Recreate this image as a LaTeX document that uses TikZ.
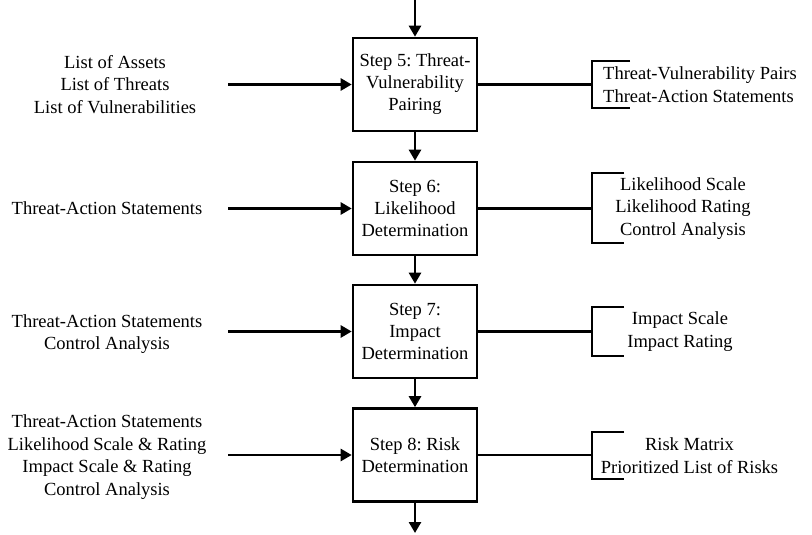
\documentclass[tikz,border=0pt]{standalone}
\usepackage{fontspec}
\setmainfont{Liberation Serif}
\usetikzlibrary{arrows.meta}
\frenchspacing
\begin{document}
\begin{tikzpicture}[x=1pt,y=-1pt,
  stepbox/.style={draw, line width=2.6pt, minimum width=124pt, minimum height=93pt,
    align=center, inner sep=1pt, font=\fontsize{18.5}{22}\selectfont},
  txt/.style={align=center, inner sep=0pt, font=\fontsize{18.5}{22.5}\selectfont},
  flow/.style={line width=2.6pt, -{Triangle[length=11pt,width=12pt]}},
  link/.style={line width=2.6pt},
  brk/.style={line width=2.6pt, line join=miter}
]
\useasboundingbox (0,0) rectangle (812,535);

% process steps
\node[stepbox] (s5) at (415,84.5) {Step 5: Threat-\\Vulnerability\\Pairing};
\node[stepbox] (s6) at (415,208.5) {Step 6:\\Likelihood\\Determination};
\node[stepbox] (s7) at (415,331.5) {Step 7:\\Impact\\Determination};
\node[stepbox] (s8) at (415,455) {Step 8: Risk\\Determination};

% main flow
\coordinate (top) at (415,0);
\coordinate (bot) at (415,533);
\draw[flow] (top) -- (s5);
\draw[flow] (s5) -- (s6);
\draw[flow] (s6) -- (s7);
\draw[flow] (s7) -- (s8);
\draw[flow] (s8) -- (bot);

% inputs
\node[txt] (in5) at (115,84.5) {List of Assets\\List of Threats\\List of Vulnerabilities};
\node[txt] (in6) at (107,208.5) {Threat-Action Statements};
\node[txt] (in7) at (107,334) {Threat-Action Statements\\Control Analysis};
\node[txt] (in8) at (107,457) {Threat-Action Statements\\Likelihood Scale \& Rating\\Impact Scale \& Rating\\Control Analysis};

\coordinate (a5) at (228,84.5);
\coordinate (a6) at (228,208.5);
\coordinate (a7) at (228,331.5);
\coordinate (a8) at (228,455);
\draw[flow] (a5) -- (s5.west);
\draw[flow] (a6) -- (s6.west);
\draw[flow] (a7) -- (s7.west);
\draw[flow] (a8) -- (s8.west);

% outputs
\coordinate (b5) at (592,84.5);
\coordinate (b6) at (592,208.5);
\coordinate (b7) at (592,331.5);
\coordinate (b8) at (592,455);
\draw[link] (s5.east) -- (b5);
\draw[link] (s6.east) -- (b6);
\draw[link] (s7.east) -- (b7);
\draw[link] (s8.east) -- (b8);

\draw[brk] (630,61) -- (592,61) -- (592,108) -- (630,108);
\draw[brk] (624,173) -- (592,173) -- (592,243) -- (624,243);
\draw[brk] (624,307) -- (592,307) -- (592,356) -- (624,356);
\draw[brk] (624,432) -- (592,432) -- (592,479) -- (624,479);

\node[txt, anchor=west, align=left] (out5) at (603,84.5) {Threat-Vulnerability Pairs\\Threat-Action Statements};
\node[txt] (out6) at (683,208.5) {Likelihood Scale\\Likelihood Rating\\Control Analysis};
\node[txt] (out7) at (680,331.5) {Impact Scale\\Impact Rating};
\node[txt] (out8) at (689.5,455.5) {Risk Matrix\\Prioritized List of Risks};
\end{tikzpicture}
\end{document}
